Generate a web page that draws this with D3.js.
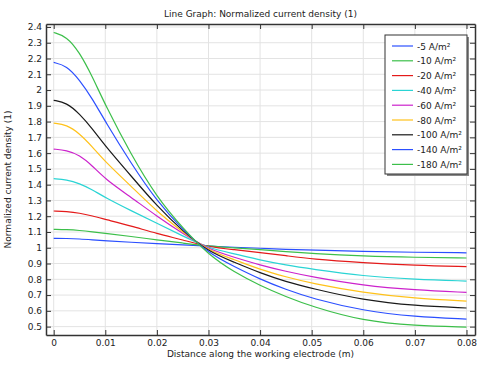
<!DOCTYPE html>
<html><head><meta charset="utf-8">
<script src="https://cdn.jsdelivr.net/npm/d3@7"></script>
<style>
body{margin:0;background:#fff;}
text{font-family:"DejaVu Sans",sans-serif;fill:#222;}
</style></head>
<body>
<svg id="c" width="498" height="378"></svg>
<script>
const xs = [0, 0.0025, 0.005, 0.0075, 0.01, 0.015, 0.02, 0.025, 0.03, 0.035, 0.04, 0.045, 0.05, 0.06, 0.07, 0.08];
const seriesNames = ["-5 A/m²", "-10 A/m²", "-20 A/m²", "-40 A/m²", "-60 A/m²", "-80 A/m²", "-100 A/m²", "-140 A/m²", "-180 A/m²"];
const colors = ["#2b4fff", "#3cbf4a", "#e41a1a", "#2ad4d4", "#cc22cc", "#ffc21a", "#1a1a1a", "#2b4fff", "#3cbf4a"];
const s5   = [1.060, 1.059, 1.056, 1.050, 1.044, 1.035, 1.026, 1.018, 1.010, 1.003, 0.997, 0.990, 0.985, 0.977, 0.971, 0.968];
const s10  = [1.117, 1.115, 1.110, 1.101, 1.091, 1.072, 1.050, 1.030, 1.010, 1.000, 0.988, 0.975, 0.963, 0.947, 0.939, 0.935];
const s20  = [1.233, 1.230, 1.220, 1.202, 1.180, 1.138, 1.090, 1.050, 1.005, 0.988, 0.970, 0.950, 0.928, 0.905, 0.888, 0.880];
const s40  = [1.438, 1.432, 1.408, 1.368, 1.318, 1.235, 1.155, 1.075, 0.998, 0.962, 0.922, 0.890, 0.865, 0.820, 0.800, 0.789];
const s60  = [1.626, 1.618, 1.588, 1.520, 1.435, 1.320, 1.200, 1.090, 0.990, 0.940, 0.890, 0.850, 0.816, 0.760, 0.732, 0.717];
const s80  = [1.790, 1.780, 1.725, 1.640, 1.545, 1.390, 1.230, 1.100, 0.982, 0.925, 0.862, 0.815, 0.774, 0.715, 0.679, 0.662];
const s100 = [1.935, 1.920, 1.850, 1.755, 1.645, 1.455, 1.265, 1.105, 0.975, 0.908, 0.840, 0.785, 0.742, 0.668, 0.632, 0.618];
const s140 = [2.175, 2.155, 2.065, 1.945, 1.800, 1.535, 1.295, 1.115, 0.965, 0.880, 0.800, 0.735, 0.679, 0.600, 0.562, 0.548];
const s180 = [2.365, 2.340, 2.240, 2.085, 1.905, 1.590, 1.320, 1.125, 0.955, 0.845, 0.760, 0.690, 0.628, 0.535, 0.506, 0.497];
const allSeries = [s5, s10, s20, s40, s60, s80, s100, s140, s180];
const xTicks = [0, 0.01, 0.02, 0.03, 0.04, 0.05, 0.06, 0.07, 0.08];
const xTickLabels = ["0", "0.01", "0.02", "0.03", "0.04", "0.05", "0.06", "0.07", "0.08"];
const yTicks = [0.5, 0.6, 0.7, 0.8, 0.9, 1, 1.1, 1.2, 1.3, 1.4, 1.5, 1.6, 1.7, 1.8, 1.9, 2, 2.1, 2.2, 2.3, 2.4];
const yTickLabels = ["0.5","0.6","0.7","0.8","0.9","1","1.1","1.2","1.3","1.4","1.5","1.6","1.7","1.8","1.9","2","2.1","2.2","2.3","2.4"];
const titleText = "Line Graph: Normalized current density (1)";
const xLabel = "Distance along the working electrode (m)";
const yLabel = "Normalized current density (1)";

const svg = d3.select("#c");
const L = 46, T = 24, R = 475, B = 335;
const x = d3.scaleLinear().domain([-0.00149, 0.08165]).range([L, R]);
const y = d3.scaleLinear().domain([0.4468, 2.4188]).range([B, T]);

// grid
const g = svg.append("g");
g.selectAll(".gx").data(xTicks).enter().append("line")
  .attr("x1", d => x(d)).attr("x2", d => x(d)).attr("y1", T).attr("y2", B)
  .attr("stroke", "#e3e3e3").attr("stroke-width", 1);
g.selectAll(".gy").data(yTicks).enter().append("line")
  .attr("y1", d => y(d)).attr("y2", d => y(d)).attr("x1", L).attr("x2", R)
  .attr("stroke", "#e3e3e3").attr("stroke-width", 1);

// lines
const line = d3.line().x((d, i) => x(xs[i])).y(d => y(d)).curve(d3.curveBasis);
allSeries.forEach((s, k) => {
  svg.append("path").datum(s).attr("d", line).attr("fill", "none")
    .attr("stroke", colors[k]).attr("stroke-width", 1.2);
});

// axes
const fmtX = (d, i) => xTickLabels[i];
const fmtY = (d, i) => yTickLabels[i];
const axB = svg.append("g").attr("transform", `translate(0,${B})`)
  .call(d3.axisBottom(x).tickValues(xTicks).tickFormat(fmtX).tickSizeInner(-5).tickSizeOuter(0).tickPadding(5));
const axT = svg.append("g").attr("transform", `translate(0,${T})`)
  .call(d3.axisTop(x).tickValues(xTicks).tickFormat("").tickSizeInner(-5).tickSizeOuter(0));
const axL = svg.append("g").attr("transform", `translate(${L},0)`)
  .call(d3.axisLeft(y).tickValues(yTicks).tickFormat(fmtY).tickSizeInner(-5).tickSizeOuter(0).tickPadding(4));
const axR = svg.append("g").attr("transform", `translate(${R},0)`)
  .call(d3.axisRight(y).tickValues(yTicks).tickFormat("").tickSizeInner(-5).tickSizeOuter(0));
[axB, axT, axL, axR].forEach(a => {
  a.select(".domain").attr("stroke", "#333").attr("stroke-width", 1.5);
  a.selectAll(".tick line").attr("stroke", "#333").attr("stroke-width", 1);
  a.selectAll("text").attr("font-size", 9).attr("fill", "#222").attr("font-family", "DejaVu Sans, sans-serif");
});

// titles
svg.append("text").attr("x", (L + R) / 2).attr("y", 17).attr("text-anchor", "middle")
  .attr("font-size", 9).text(titleText);
svg.append("text").attr("x", (L + R) / 2).attr("y", 357).attr("text-anchor", "middle")
  .attr("font-size", 9).text(xLabel);
svg.append("text").attr("transform", `translate(11,${(T + B) / 2}) rotate(-90)`).attr("text-anchor", "middle")
  .attr("font-size", 9).text(yLabel);

// legend
const lg = svg.append("g");
const lx = 385, ly = 35, lw = 82, lh = 139;
lg.append("rect").attr("x", lx + 2).attr("y", ly + 2).attr("width", lw).attr("height", lh).attr("fill", "#888");
lg.append("rect").attr("x", lx).attr("y", ly).attr("width", lw).attr("height", lh)
  .attr("fill", "#fff").attr("stroke", "#333").attr("stroke-width", 1);
seriesNames.forEach((n, k) => {
  const yy = ly + 11 + k * 14.8;
  lg.append("line").attr("x1", lx + 7).attr("x2", lx + 28).attr("y1", yy).attr("y2", yy)
    .attr("stroke", colors[k]).attr("stroke-width", 1.2);
  lg.append("text").attr("x", lx + 32).attr("y", yy + 3.5).attr("font-size", 9).text(n);
});
</script>
</body></html>
